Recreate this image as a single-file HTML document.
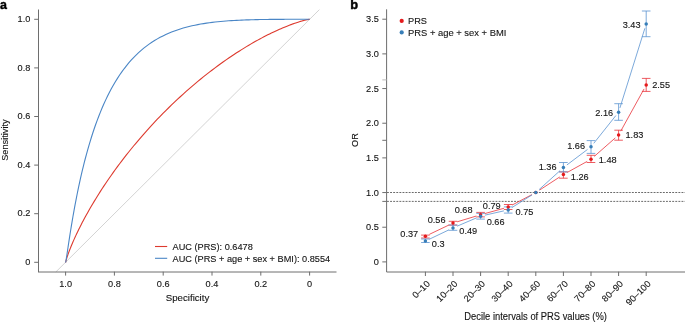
<!DOCTYPE html>
<html><head><meta charset="utf-8"><style>
html,body{margin:0;padding:0;background:#fff;}
body{width:685px;height:322px;overflow:hidden;}
svg{display:block;filter:grayscale(0);}
text{font-family:"Liberation Sans",sans-serif;fill:#151515;stroke:#151515;stroke-width:0.12px;}
</style></head><body>
<svg width="685" height="322" viewBox="0 0 685 322">
<text transform="translate(0.10,8.80) scale(1,0.97)" style="font-size:12.4px;font-weight:bold;fill:#000;stroke:#000;stroke-width:0.45px">a</text>
<line x1="55.80" y1="272.00" x2="319.40" y2="9.60" stroke="#c8c8c8" stroke-width="0.8"/>
<line x1="38.50" y1="9.50" x2="38.50" y2="272.00" stroke="#6e6e6e" stroke-width="1"/>
<line x1="38.00" y1="272.00" x2="336.50" y2="272.00" stroke="#6e6e6e" stroke-width="1"/>
<line x1="34.20" y1="262.30" x2="38.50" y2="262.30" stroke="#6e6e6e" stroke-width="1"/>
<text transform="translate(30.30,264.90) scale(1,1.08)" text-anchor="end" style="font-size:9.2px">0</text>
<line x1="34.20" y1="213.70" x2="38.50" y2="213.70" stroke="#6e6e6e" stroke-width="1"/>
<text transform="translate(30.30,216.30) scale(1,1.08)" text-anchor="end" style="font-size:9.2px">0.2</text>
<line x1="34.20" y1="165.10" x2="38.50" y2="165.10" stroke="#6e6e6e" stroke-width="1"/>
<text transform="translate(30.30,167.70) scale(1,1.08)" text-anchor="end" style="font-size:9.2px">0.4</text>
<line x1="34.20" y1="116.50" x2="38.50" y2="116.50" stroke="#6e6e6e" stroke-width="1"/>
<text transform="translate(30.30,119.10) scale(1,1.08)" text-anchor="end" style="font-size:9.2px">0.6</text>
<line x1="34.20" y1="67.90" x2="38.50" y2="67.90" stroke="#6e6e6e" stroke-width="1"/>
<text transform="translate(30.30,70.50) scale(1,1.08)" text-anchor="end" style="font-size:9.2px">0.8</text>
<line x1="34.20" y1="19.30" x2="38.50" y2="19.30" stroke="#6e6e6e" stroke-width="1"/>
<text transform="translate(30.30,21.90) scale(1,1.08)" text-anchor="end" style="font-size:9.2px">1.0</text>
<line x1="65.60" y1="271.70" x2="65.60" y2="275.60" stroke="#6e6e6e" stroke-width="1"/>
<text transform="translate(65.60,287.00) scale(1,1.08)" text-anchor="middle" style="font-size:9.2px">1.0</text>
<line x1="114.40" y1="271.70" x2="114.40" y2="275.60" stroke="#6e6e6e" stroke-width="1"/>
<text transform="translate(114.40,287.00) scale(1,1.08)" text-anchor="middle" style="font-size:9.2px">0.8</text>
<line x1="163.20" y1="271.70" x2="163.20" y2="275.60" stroke="#6e6e6e" stroke-width="1"/>
<text transform="translate(163.20,287.00) scale(1,1.08)" text-anchor="middle" style="font-size:9.2px">0.6</text>
<line x1="212.00" y1="271.70" x2="212.00" y2="275.60" stroke="#6e6e6e" stroke-width="1"/>
<text transform="translate(212.00,287.00) scale(1,1.08)" text-anchor="middle" style="font-size:9.2px">0.4</text>
<line x1="260.80" y1="271.70" x2="260.80" y2="275.60" stroke="#6e6e6e" stroke-width="1"/>
<text transform="translate(260.80,287.00) scale(1,1.08)" text-anchor="middle" style="font-size:9.2px">0.2</text>
<line x1="309.60" y1="271.70" x2="309.60" y2="275.60" stroke="#6e6e6e" stroke-width="1"/>
<text transform="translate(309.60,287.00) scale(1,1.08)" text-anchor="middle" style="font-size:9.2px">0</text>
<text transform="translate(187.50,300.80)" text-anchor="middle" style="font-size:9.7px">Specificity</text>
<text transform="translate(8.30,140.10) rotate(-90) scale(1,1.03)" text-anchor="middle" style="font-size:9.2px">Sensitivity</text>
<path d="M65.60,262.30 L65.60,262.29 L65.60,262.29 L65.60,262.29 L65.60,262.29 L65.60,262.29 L65.60,262.29 L65.60,262.29 L65.60,262.29 L65.60,262.28 L65.60,262.28 L65.60,262.28 L65.60,262.28 L65.60,262.27 L65.60,262.27 L65.61,262.27 L65.61,262.26 L65.61,262.26 L65.61,262.25 L65.61,262.25 L65.61,262.24 L65.61,262.23 L65.61,262.22 L65.62,262.22 L65.62,262.21 L65.62,262.19 L65.62,262.18 L65.62,262.17 L65.63,262.15 L65.63,262.14 L65.63,262.12 L65.64,262.10 L65.64,262.08 L65.65,262.05 L65.66,262.02 L65.66,261.99 L65.67,261.96 L65.68,261.92 L65.69,261.89 L65.70,261.84 L65.71,261.79 L65.72,261.74 L65.73,261.69 L65.75,261.63 L65.76,261.56 L65.78,261.49 L65.80,261.41 L65.82,261.32 L65.85,261.23 L65.87,261.13 L65.90,261.02 L65.93,260.90 L65.97,260.77 L66.01,260.63 L66.05,260.48 L66.09,260.32 L66.14,260.15 L66.20,259.96 L66.25,259.76 L66.32,259.54 L66.39,259.31 L66.46,259.06 L66.54,258.80 L66.63,258.52 L66.73,258.21 L66.83,257.89 L66.94,257.54 L67.06,257.17 L67.19,256.78 L67.33,256.36 L67.48,255.92 L67.64,255.45 L67.81,254.95 L68.00,254.42 L68.20,253.86 L68.41,253.26 L68.64,252.64 L68.89,251.98 L69.15,251.28 L69.43,250.54 L69.73,249.77 L70.05,248.95 L70.38,248.10 L70.75,247.20 L71.13,246.26 L71.54,245.27 L71.97,244.24 L72.43,243.16 L72.91,242.04 L73.43,240.86 L73.97,239.63 L74.54,238.35 L75.15,237.02 L75.79,235.64 L76.46,234.21 L77.17,232.72 L77.91,231.17 L78.69,229.57 L79.51,227.92 L80.37,226.20 L81.28,224.44 L82.22,222.61 L83.21,220.73 L84.24,218.80 L85.32,216.81 L86.44,214.76 L87.61,212.66 L88.83,210.50 L90.10,208.29 L91.42,206.03 L92.78,203.71 L94.20,201.35 L95.67,198.93 L97.20,196.47 L98.77,193.96 L100.40,191.40 L102.08,188.81 L103.82,186.16 L105.61,183.48 L107.45,180.76 L109.35,178.01 L111.30,175.22 L113.30,172.40 L115.35,169.55 L117.46,166.68 L119.62,163.78 L121.82,160.85 L124.08,157.91 L126.39,154.96 L128.74,151.99 L131.14,149.01 L133.58,146.02 L136.07,143.03 L138.60,140.03 L141.17,137.04 L143.78,134.04 L146.43,131.06 L149.11,128.08 L151.82,125.12 L154.57,122.17 L157.34,119.24 L160.14,116.33 L162.96,113.44 L165.81,110.58 L168.68,107.75 L171.56,104.94 L174.46,102.17 L177.36,99.43 L180.28,96.73 L183.21,94.07 L186.14,91.45 L189.06,88.88 L191.99,86.34 L194.92,83.86 L197.84,81.42 L200.74,79.03 L203.64,76.69 L206.52,74.40 L209.39,72.17 L212.24,69.98 L215.06,67.86 L217.86,65.78 L220.63,63.76 L223.38,61.80 L226.09,59.89 L228.77,58.04 L231.42,56.25 L234.03,54.51 L236.60,52.83 L239.13,51.20 L241.62,49.63 L244.06,48.11 L246.46,46.65 L248.81,45.24 L251.12,43.89 L253.38,42.58 L255.58,41.33 L257.74,40.13 L259.85,38.98 L261.90,37.88 L263.90,36.82 L265.85,35.81 L267.75,34.85 L269.59,33.93 L271.38,33.06 L273.12,32.22 L274.80,31.43 L276.43,30.67 L278.00,29.96 L279.53,29.28 L281.00,28.64 L282.42,28.03 L283.78,27.45 L285.10,26.91 L286.37,26.39 L287.59,25.91 L288.76,25.45 L289.88,25.02 L290.96,24.62 L291.99,24.23 L292.98,23.88 L293.92,23.54 L294.83,23.23 L295.69,22.94 L296.51,22.66 L297.29,22.41 L298.03,22.17 L298.74,21.94 L299.41,21.74 L300.05,21.54 L300.66,21.36 L301.23,21.19 L301.77,21.04 L302.29,20.90 L302.77,20.76 L303.23,20.64 L303.66,20.53 L304.07,20.42 L304.45,20.32 L304.82,20.23 L305.15,20.15 L305.47,20.08 L305.77,20.01 L306.05,19.94 L306.31,19.88 L306.56,19.83 L306.79,19.78 L307.00,19.74 L307.20,19.69 L307.39,19.66 L307.56,19.62 L307.72,19.59 L307.87,19.56 L308.01,19.54 L308.14,19.51 L308.26,19.49 L308.37,19.47 L308.47,19.45 L308.57,19.44 L308.66,19.42 L308.74,19.41 L308.81,19.40 L308.88,19.39 L308.95,19.38 L309.00,19.37 L309.06,19.36 L309.11,19.36 L309.15,19.35 L309.19,19.34 L309.23,19.34 L309.27,19.34 L309.30,19.33 L309.33,19.33 L309.35,19.32 L309.38,19.32 L309.40,19.32 L309.42,19.32 L309.44,19.31 L309.45,19.31 L309.47,19.31 L309.48,19.31 L309.49,19.31 L309.50,19.31 L309.51,19.31 L309.52,19.31 L309.53,19.31 L309.54,19.30 L309.54,19.30 L309.55,19.30 L309.56,19.30 L309.56,19.30 L309.57,19.30 L309.57,19.30 L309.57,19.30 L309.58,19.30 L309.58,19.30 L309.58,19.30 L309.58,19.30 L309.58,19.30 L309.59,19.30 L309.59,19.30 L309.59,19.30 L309.59,19.30 L309.59,19.30 L309.59,19.30 L309.59,19.30 L309.59,19.30 L309.60,19.30 L309.60,19.30 L309.60,19.30 L309.60,19.30 L309.60,19.30 L309.60,19.30 L309.60,19.30 L309.60,19.30 L309.60,19.30 L309.60,19.30 L309.60,19.30 L309.60,19.30 L309.60,19.30 L309.60,19.30 L309.60,19.30" fill="none" stroke="#dd3a2e" stroke-width="1.1" stroke-linejoin="round"/>
<path d="M65.60,262.30 L65.60,262.30 L65.60,262.30 L65.60,262.30 L65.60,262.30 L65.60,262.30 L65.60,262.30 L65.60,262.30 L65.60,262.30 L65.60,262.30 L65.60,262.30 L65.60,262.30 L65.60,262.30 L65.60,262.30 L65.60,262.30 L65.61,262.29 L65.61,262.29 L65.61,262.29 L65.61,262.29 L65.61,262.29 L65.61,262.29 L65.61,262.28 L65.61,262.28 L65.62,262.28 L65.62,262.27 L65.62,262.27 L65.62,262.26 L65.62,262.26 L65.63,262.25 L65.63,262.24 L65.63,262.23 L65.64,262.22 L65.64,262.20 L65.65,262.19 L65.66,262.17 L65.66,262.14 L65.67,262.12 L65.68,262.09 L65.69,262.06 L65.70,262.02 L65.71,261.97 L65.72,261.92 L65.73,261.86 L65.75,261.80 L65.76,261.72 L65.78,261.64 L65.80,261.55 L65.82,261.44 L65.85,261.32 L65.87,261.18 L65.90,261.03 L65.93,260.86 L65.97,260.67 L66.01,260.46 L66.05,260.22 L66.09,259.96 L66.14,259.67 L66.20,259.35 L66.25,258.99 L66.32,258.60 L66.39,258.17 L66.46,257.70 L66.54,257.18 L66.63,256.61 L66.73,256.00 L66.83,255.32 L66.94,254.59 L67.06,253.80 L67.19,252.94 L67.33,252.01 L67.48,251.01 L67.64,249.93 L67.81,248.77 L68.00,247.52 L68.20,246.19 L68.41,244.77 L68.64,243.25 L68.89,241.64 L69.15,239.92 L69.43,238.10 L69.73,236.18 L70.05,234.14 L70.38,232.00 L70.75,229.75 L71.13,227.38 L71.54,224.90 L71.97,222.31 L72.43,219.60 L72.91,216.78 L73.43,213.85 L73.97,210.81 L74.54,207.65 L75.15,204.39 L75.79,201.03 L76.46,197.57 L77.17,194.01 L77.91,190.35 L78.69,186.62 L79.51,182.79 L80.37,178.90 L81.28,174.93 L82.22,170.90 L83.21,166.81 L84.24,162.68 L85.32,158.50 L86.44,154.29 L87.61,150.05 L88.83,145.80 L90.10,141.54 L91.42,137.27 L92.78,133.01 L94.20,128.77 L95.67,124.55 L97.20,120.36 L98.77,116.21 L100.40,112.10 L102.08,108.05 L103.82,104.06 L105.61,100.14 L107.45,96.29 L109.35,92.52 L111.30,88.84 L113.30,85.25 L115.35,81.75 L117.46,78.35 L119.62,75.06 L121.82,71.87 L124.08,68.79 L126.39,65.82 L128.74,62.96 L131.14,60.21 L133.58,57.58 L136.07,55.06 L138.60,52.65 L141.17,50.36 L143.78,48.18 L146.43,46.11 L149.11,44.15 L151.82,42.29 L154.57,40.54 L157.34,38.89 L160.14,37.34 L162.96,35.89 L165.81,34.53 L168.68,33.25 L171.56,32.06 L174.46,30.96 L177.36,29.93 L180.28,28.97 L183.21,28.09 L186.14,27.27 L189.06,26.52 L191.99,25.83 L194.92,25.19 L197.84,24.61 L200.74,24.08 L203.64,23.59 L206.52,23.14 L209.39,22.74 L212.24,22.37 L215.06,22.04 L217.86,21.74 L220.63,21.47 L223.38,21.22 L226.09,21.00 L228.77,20.80 L231.42,20.63 L234.03,20.47 L236.60,20.33 L239.13,20.20 L241.62,20.09 L244.06,19.99 L246.46,19.90 L248.81,19.83 L251.12,19.76 L253.38,19.70 L255.58,19.64 L257.74,19.60 L259.85,19.56 L261.90,19.52 L263.90,19.49 L265.85,19.46 L267.75,19.44 L269.59,19.42 L271.38,19.40 L273.12,19.39 L274.80,19.37 L276.43,19.36 L278.00,19.35 L279.53,19.35 L281.00,19.34 L282.42,19.33 L283.78,19.33 L285.10,19.32 L286.37,19.32 L287.59,19.32 L288.76,19.31 L289.88,19.31 L290.96,19.31 L291.99,19.31 L292.98,19.31 L293.92,19.31 L294.83,19.30 L295.69,19.30 L296.51,19.30 L297.29,19.30 L298.03,19.30 L298.74,19.30 L299.41,19.30 L300.05,19.30 L300.66,19.30 L301.23,19.30 L301.77,19.30 L302.29,19.30 L302.77,19.30 L303.23,19.30 L303.66,19.30 L304.07,19.30 L304.45,19.30 L304.82,19.30 L305.15,19.30 L305.47,19.30 L305.77,19.30 L306.05,19.30 L306.31,19.30 L306.56,19.30 L306.79,19.30 L307.00,19.30 L307.20,19.30 L307.39,19.30 L307.56,19.30 L307.72,19.30 L307.87,19.30 L308.01,19.30 L308.14,19.30 L308.26,19.30 L308.37,19.30 L308.47,19.30 L308.57,19.30 L308.66,19.30 L308.74,19.30 L308.81,19.30 L308.88,19.30 L308.95,19.30 L309.00,19.30 L309.06,19.30 L309.11,19.30 L309.15,19.30 L309.19,19.30 L309.23,19.30 L309.27,19.30 L309.30,19.30 L309.33,19.30 L309.35,19.30 L309.38,19.30 L309.40,19.30 L309.42,19.30 L309.44,19.30 L309.45,19.30 L309.47,19.30 L309.48,19.30 L309.49,19.30 L309.50,19.30 L309.51,19.30 L309.52,19.30 L309.53,19.30 L309.54,19.30 L309.54,19.30 L309.55,19.30 L309.56,19.30 L309.56,19.30 L309.57,19.30 L309.57,19.30 L309.57,19.30 L309.58,19.30 L309.58,19.30 L309.58,19.30 L309.58,19.30 L309.58,19.30 L309.59,19.30 L309.59,19.30 L309.59,19.30 L309.59,19.30 L309.59,19.30 L309.59,19.30 L309.59,19.30 L309.59,19.30 L309.60,19.30 L309.60,19.30 L309.60,19.30 L309.60,19.30 L309.60,19.30 L309.60,19.30 L309.60,19.30 L309.60,19.30 L309.60,19.30 L309.60,19.30 L309.60,19.30 L309.60,19.30 L309.60,19.30 L309.60,19.30 L309.60,19.30" fill="none" stroke="#4a86c6" stroke-width="1.1" stroke-linejoin="round"/>
<line x1="155.00" y1="246.50" x2="167.20" y2="246.50" stroke="#dd3a2e" stroke-width="1.1"/>
<line x1="155.00" y1="258.30" x2="167.20" y2="258.30" stroke="#4a86c6" stroke-width="1.1"/>
<text transform="translate(172.60,249.90) scale(1,1.08)" style="font-size:9.2px">AUC (PRS): 0.6478</text>
<text transform="translate(172.60,261.50) scale(1,1.08)" style="font-size:9.2px">AUC (PRS + age + sex + BMI): 0.8554</text>
<text transform="translate(350.30,8.90)" style="font-size:12.8px;font-weight:bold;fill:#000;stroke:#000;stroke-width:0.45px">b</text>
<line x1="386.60" y1="9.30" x2="386.60" y2="272.00" stroke="#6e6e6e" stroke-width="1"/>
<line x1="386.60" y1="272.00" x2="685.00" y2="272.00" stroke="#6e6e6e" stroke-width="1"/>
<line x1="382.30" y1="261.90" x2="386.60" y2="261.90" stroke="#6e6e6e" stroke-width="1"/>
<text transform="translate(378.80,265.10) scale(1,1.08)" text-anchor="end" style="font-size:9.2px">0</text>
<line x1="382.30" y1="227.23" x2="386.60" y2="227.23" stroke="#6e6e6e" stroke-width="1"/>
<text transform="translate(378.80,230.43) scale(1,1.08)" text-anchor="end" style="font-size:9.2px">0.5</text>
<line x1="382.30" y1="192.56" x2="386.60" y2="192.56" stroke="#6e6e6e" stroke-width="1"/>
<text transform="translate(378.80,195.76) scale(1,1.08)" text-anchor="end" style="font-size:9.2px">1.0</text>
<line x1="382.30" y1="157.89" x2="386.60" y2="157.89" stroke="#6e6e6e" stroke-width="1"/>
<text transform="translate(378.80,161.09) scale(1,1.08)" text-anchor="end" style="font-size:9.2px">1.5</text>
<line x1="382.30" y1="123.22" x2="386.60" y2="123.22" stroke="#6e6e6e" stroke-width="1"/>
<text transform="translate(378.80,126.42) scale(1,1.08)" text-anchor="end" style="font-size:9.2px">2.0</text>
<line x1="382.30" y1="88.55" x2="386.60" y2="88.55" stroke="#6e6e6e" stroke-width="1"/>
<text transform="translate(378.80,91.75) scale(1,1.08)" text-anchor="end" style="font-size:9.2px">2.5</text>
<line x1="382.30" y1="53.88" x2="386.60" y2="53.88" stroke="#6e6e6e" stroke-width="1"/>
<text transform="translate(378.80,57.08) scale(1,1.08)" text-anchor="end" style="font-size:9.2px">3.0</text>
<line x1="382.30" y1="19.21" x2="386.60" y2="19.21" stroke="#6e6e6e" stroke-width="1"/>
<text transform="translate(378.80,22.41) scale(1,1.08)" text-anchor="end" style="font-size:9.2px">3.5</text>
<line x1="382.30" y1="79.90" x2="386.60" y2="79.90" stroke="#bbb" stroke-width="1"/>
<line x1="382.30" y1="140.30" x2="386.60" y2="140.30" stroke="#6e6e6e" stroke-width="1"/>
<line x1="382.30" y1="201.40" x2="386.60" y2="201.40" stroke="#6e6e6e" stroke-width="1"/>
<text transform="translate(358.30,140.00) rotate(-90) scale(1,1.08)" text-anchor="middle" style="font-size:9.2px">OR</text>
<line x1="425.40" y1="271.70" x2="425.40" y2="276.00" stroke="#6e6e6e" stroke-width="1"/>
<text transform="translate(430.50,284.40) rotate(-45)" text-anchor="end" style="font-size:9.2px">0–10</text>
<line x1="453.00" y1="271.70" x2="453.00" y2="276.00" stroke="#6e6e6e" stroke-width="1"/>
<text transform="translate(458.10,284.40) rotate(-45)" text-anchor="end" style="font-size:9.2px">10–20</text>
<line x1="480.60" y1="271.70" x2="480.60" y2="276.00" stroke="#6e6e6e" stroke-width="1"/>
<text transform="translate(485.70,284.40) rotate(-45)" text-anchor="end" style="font-size:9.2px">20–30</text>
<line x1="508.20" y1="271.70" x2="508.20" y2="276.00" stroke="#6e6e6e" stroke-width="1"/>
<text transform="translate(513.30,284.40) rotate(-45)" text-anchor="end" style="font-size:9.2px">30–40</text>
<line x1="535.80" y1="271.70" x2="535.80" y2="276.00" stroke="#6e6e6e" stroke-width="1"/>
<text transform="translate(540.90,284.40) rotate(-45)" text-anchor="end" style="font-size:9.2px">40–60</text>
<line x1="563.40" y1="271.70" x2="563.40" y2="276.00" stroke="#6e6e6e" stroke-width="1"/>
<text transform="translate(568.50,284.40) rotate(-45)" text-anchor="end" style="font-size:9.2px">60–70</text>
<line x1="591.00" y1="271.70" x2="591.00" y2="276.00" stroke="#6e6e6e" stroke-width="1"/>
<text transform="translate(596.10,284.40) rotate(-45)" text-anchor="end" style="font-size:9.2px">70–80</text>
<line x1="618.60" y1="271.70" x2="618.60" y2="276.00" stroke="#6e6e6e" stroke-width="1"/>
<text transform="translate(623.70,284.40) rotate(-45)" text-anchor="end" style="font-size:9.2px">80–90</text>
<line x1="646.20" y1="271.70" x2="646.20" y2="276.00" stroke="#6e6e6e" stroke-width="1"/>
<text transform="translate(651.30,284.40) rotate(-45)" text-anchor="end" style="font-size:9.2px">90–100</text>
<text transform="translate(535.60,319.80) scale(1,1.08)" text-anchor="middle" style="font-size:9.37px">Decile intervals of PRS values (%)</text>
<line x1="387.00" y1="192.50" x2="685.00" y2="192.50" stroke="#5a5a5a" stroke-width="0.9" stroke-dasharray="1.9 1.2"/>
<line x1="387.00" y1="201.40" x2="685.00" y2="201.40" stroke="#5a5a5a" stroke-width="0.9" stroke-dasharray="1.9 1.2"/>
<path d="M429.37,234.35L449.03,224.97M457.21,221.80L476.39,216.02M484.84,213.58L503.96,208.29M512.09,205.07L531.91,194.61M539.48,190.15L559.72,176.94M567.25,172.40L587.15,161.41M594.30,156.37L615.30,137.91M620.73,131.16L644.07,88.93" fill="none" stroke="#e8323a" stroke-width="0.8"/>
<line x1="425.40" y1="235.10" x2="425.40" y2="238.00" stroke="#e8323a" stroke-width="0.8"/>
<line x1="421.10" y1="235.10" x2="429.70" y2="235.10" stroke="#e8323a" stroke-width="0.8"/>
<line x1="421.10" y1="238.00" x2="429.70" y2="238.00" stroke="#e8323a" stroke-width="0.8"/>
<line x1="453.00" y1="221.30" x2="453.00" y2="225.10" stroke="#e8323a" stroke-width="0.8"/>
<line x1="448.70" y1="221.30" x2="457.30" y2="221.30" stroke="#e8323a" stroke-width="0.8"/>
<line x1="448.70" y1="225.10" x2="457.30" y2="225.10" stroke="#e8323a" stroke-width="0.8"/>
<line x1="480.60" y1="212.40" x2="480.60" y2="216.90" stroke="#e8323a" stroke-width="0.8"/>
<line x1="476.30" y1="212.40" x2="484.90" y2="212.40" stroke="#e8323a" stroke-width="0.8"/>
<line x1="476.30" y1="216.90" x2="484.90" y2="216.90" stroke="#e8323a" stroke-width="0.8"/>
<line x1="508.20" y1="204.50" x2="508.20" y2="209.50" stroke="#e8323a" stroke-width="0.8"/>
<line x1="503.90" y1="204.50" x2="512.50" y2="204.50" stroke="#e8323a" stroke-width="0.8"/>
<line x1="503.90" y1="209.50" x2="512.50" y2="209.50" stroke="#e8323a" stroke-width="0.8"/>
<line x1="563.40" y1="171.90" x2="563.40" y2="178.20" stroke="#e8323a" stroke-width="0.8"/>
<line x1="559.10" y1="171.90" x2="567.70" y2="171.90" stroke="#e8323a" stroke-width="0.8"/>
<line x1="559.10" y1="178.20" x2="567.70" y2="178.20" stroke="#e8323a" stroke-width="0.8"/>
<line x1="591.00" y1="155.30" x2="591.00" y2="162.50" stroke="#e8323a" stroke-width="0.8"/>
<line x1="586.70" y1="155.30" x2="595.30" y2="155.30" stroke="#e8323a" stroke-width="0.8"/>
<line x1="586.70" y1="162.50" x2="595.30" y2="162.50" stroke="#e8323a" stroke-width="0.8"/>
<line x1="618.60" y1="130.20" x2="618.60" y2="140.20" stroke="#e8323a" stroke-width="0.8"/>
<line x1="614.30" y1="130.20" x2="622.90" y2="130.20" stroke="#e8323a" stroke-width="0.8"/>
<line x1="614.30" y1="140.20" x2="622.90" y2="140.20" stroke="#e8323a" stroke-width="0.8"/>
<line x1="646.20" y1="78.40" x2="646.20" y2="91.40" stroke="#e8323a" stroke-width="0.8"/>
<line x1="641.90" y1="78.40" x2="650.50" y2="78.40" stroke="#e8323a" stroke-width="0.8"/>
<line x1="641.90" y1="91.40" x2="650.50" y2="91.40" stroke="#e8323a" stroke-width="0.8"/>
<path d="M429.37,239.20L449.03,229.82M457.05,226.20L476.55,217.86M484.89,215.17L503.91,210.87M511.93,207.55L532.07,194.90M539.06,189.61L560.14,170.55M566.91,164.95L587.49,149.44M593.74,143.35L615.86,115.57M619.92,107.93L644.88,28.26" fill="none" stroke="#5a93d0" stroke-width="0.8"/>
<line x1="425.40" y1="239.00" x2="425.40" y2="242.50" stroke="#5a93d0" stroke-width="0.8"/>
<line x1="421.10" y1="239.00" x2="429.70" y2="239.00" stroke="#5a93d0" stroke-width="0.8"/>
<line x1="421.10" y1="242.50" x2="429.70" y2="242.50" stroke="#5a93d0" stroke-width="0.8"/>
<line x1="453.00" y1="225.00" x2="453.00" y2="230.30" stroke="#5a93d0" stroke-width="0.8"/>
<line x1="448.70" y1="225.00" x2="457.30" y2="225.00" stroke="#5a93d0" stroke-width="0.8"/>
<line x1="448.70" y1="230.30" x2="457.30" y2="230.30" stroke="#5a93d0" stroke-width="0.8"/>
<line x1="480.60" y1="213.40" x2="480.60" y2="219.10" stroke="#5a93d0" stroke-width="0.8"/>
<line x1="476.30" y1="213.40" x2="484.90" y2="213.40" stroke="#5a93d0" stroke-width="0.8"/>
<line x1="476.30" y1="219.10" x2="484.90" y2="219.10" stroke="#5a93d0" stroke-width="0.8"/>
<line x1="508.20" y1="206.90" x2="508.20" y2="213.10" stroke="#5a93d0" stroke-width="0.8"/>
<line x1="503.90" y1="206.90" x2="512.50" y2="206.90" stroke="#5a93d0" stroke-width="0.8"/>
<line x1="503.90" y1="213.10" x2="512.50" y2="213.10" stroke="#5a93d0" stroke-width="0.8"/>
<line x1="563.40" y1="162.50" x2="563.40" y2="171.90" stroke="#5a93d0" stroke-width="0.8"/>
<line x1="559.10" y1="162.50" x2="567.70" y2="162.50" stroke="#5a93d0" stroke-width="0.8"/>
<line x1="559.10" y1="171.90" x2="567.70" y2="171.90" stroke="#5a93d0" stroke-width="0.8"/>
<line x1="591.00" y1="140.60" x2="591.00" y2="153.40" stroke="#5a93d0" stroke-width="0.8"/>
<line x1="586.70" y1="140.60" x2="595.30" y2="140.60" stroke="#5a93d0" stroke-width="0.8"/>
<line x1="586.70" y1="153.40" x2="595.30" y2="153.40" stroke="#5a93d0" stroke-width="0.8"/>
<line x1="618.60" y1="103.70" x2="618.60" y2="120.30" stroke="#5a93d0" stroke-width="0.8"/>
<line x1="614.30" y1="103.70" x2="622.90" y2="103.70" stroke="#5a93d0" stroke-width="0.8"/>
<line x1="614.30" y1="120.30" x2="622.90" y2="120.30" stroke="#5a93d0" stroke-width="0.8"/>
<line x1="646.20" y1="11.00" x2="646.20" y2="36.70" stroke="#5a93d0" stroke-width="0.8"/>
<line x1="641.90" y1="11.00" x2="650.50" y2="11.00" stroke="#5a93d0" stroke-width="0.8"/>
<line x1="641.90" y1="36.70" x2="650.50" y2="36.70" stroke="#5a93d0" stroke-width="0.8"/>
<circle cx="425.40" cy="236.24" r="1.75" fill="#e41a1c"/>
<circle cx="453.00" cy="223.07" r="1.75" fill="#e41a1c"/>
<circle cx="480.60" cy="214.75" r="1.75" fill="#e41a1c"/>
<circle cx="508.20" cy="207.12" r="1.75" fill="#e41a1c"/>
<circle cx="535.80" cy="192.56" r="1.75" fill="#e41a1c"/>
<circle cx="563.40" cy="174.53" r="1.75" fill="#e41a1c"/>
<circle cx="591.00" cy="159.28" r="1.75" fill="#e41a1c"/>
<circle cx="618.60" cy="135.01" r="1.75" fill="#e41a1c"/>
<circle cx="646.20" cy="85.08" r="1.75" fill="#e41a1c"/>
<circle cx="425.40" cy="241.10" r="1.75" fill="#377eb8"/>
<circle cx="453.00" cy="227.92" r="1.75" fill="#377eb8"/>
<circle cx="480.60" cy="216.14" r="1.75" fill="#377eb8"/>
<circle cx="508.20" cy="209.89" r="1.75" fill="#377eb8"/>
<circle cx="535.80" cy="192.56" r="1.75" fill="#377eb8"/>
<circle cx="563.40" cy="167.60" r="1.75" fill="#377eb8"/>
<circle cx="591.00" cy="146.80" r="1.75" fill="#377eb8"/>
<circle cx="618.60" cy="112.13" r="1.75" fill="#377eb8"/>
<circle cx="646.20" cy="24.06" r="1.75" fill="#377eb8"/>
<text transform="translate(409.25,237.40) scale(1,1.08)" text-anchor="middle" style="font-size:9.2px">0.37</text>
<text transform="translate(438.15,246.90) scale(1,1.08)" text-anchor="middle" style="font-size:9.2px">0.3</text>
<text transform="translate(436.60,222.90) scale(1,1.08)" text-anchor="middle" style="font-size:9.2px">0.56</text>
<text transform="translate(468.30,234.30) scale(1,1.08)" text-anchor="middle" style="font-size:9.2px">0.49</text>
<text transform="translate(463.65,213.20) scale(1,1.08)" text-anchor="middle" style="font-size:9.2px">0.68</text>
<text transform="translate(495.65,225.30) scale(1,1.08)" text-anchor="middle" style="font-size:9.2px">0.66</text>
<text transform="translate(491.75,208.70) scale(1,1.08)" text-anchor="middle" style="font-size:9.2px">0.79</text>
<text transform="translate(524.45,214.50) scale(1,1.08)" text-anchor="middle" style="font-size:9.2px">0.75</text>
<text transform="translate(547.65,170.20) scale(1,1.08)" text-anchor="middle" style="font-size:9.2px">1.36</text>
<text transform="translate(579.80,179.60) scale(1,1.08)" text-anchor="middle" style="font-size:9.2px">1.26</text>
<text transform="translate(576.15,149.10) scale(1,1.08)" text-anchor="middle" style="font-size:9.2px">1.66</text>
<text transform="translate(607.70,162.50) scale(1,1.08)" text-anchor="middle" style="font-size:9.2px">1.48</text>
<text transform="translate(604.20,115.60) scale(1,1.08)" text-anchor="middle" style="font-size:9.2px">2.16</text>
<text transform="translate(634.45,138.40) scale(1,1.08)" text-anchor="middle" style="font-size:9.2px">1.83</text>
<text transform="translate(631.60,28.00) scale(1,1.08)" text-anchor="middle" style="font-size:9.2px">3.43</text>
<text transform="translate(661.15,88.40) scale(1,1.08)" text-anchor="middle" style="font-size:9.2px">2.55</text>
<circle cx="401.7" cy="20.9" r="2.1" fill="#e41a1c"/>
<circle cx="401.7" cy="32.4" r="2.1" fill="#377eb8"/>
<text transform="translate(408.00,24.20) scale(1,1.03)" style="font-size:9.2px">PRS</text>
<text transform="translate(408.00,35.80) scale(1,1.03)" style="font-size:9.4px">PRS + age + sex + BMI</text>
</svg></body></html>
